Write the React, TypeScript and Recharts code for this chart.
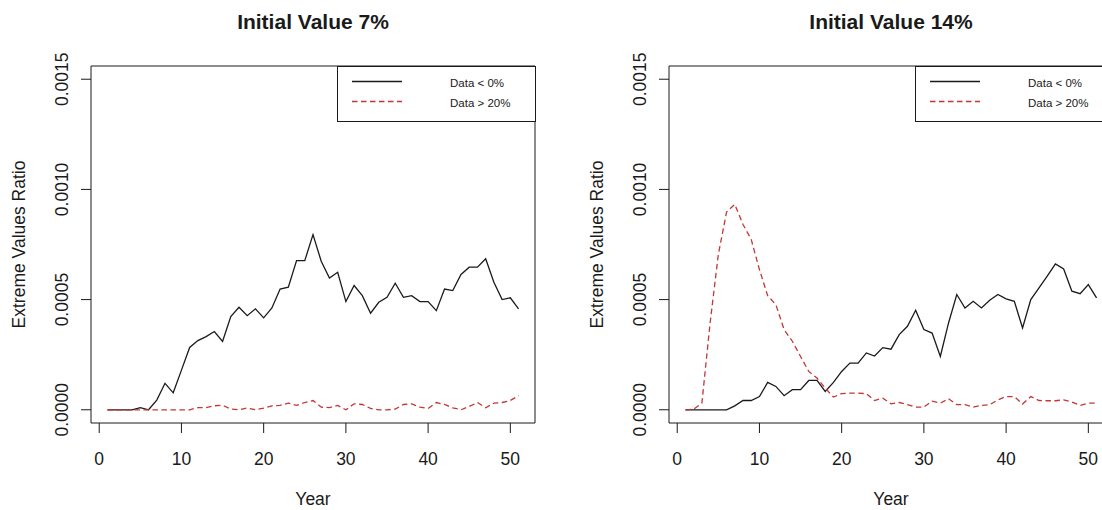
import React from 'react';
import { LineChart, Line, XAxis, YAxis, ReferenceArea, Legend } from 'recharts';

// Simulation years on the x axis
const years = [
  1, 2, 3, 4, 5, 6, 7, 8, 9, 10, 11, 12, 13, 14, 15, 16, 17, 18, 19, 20,
  21, 22, 23, 24, 25, 26, 27, 28, 29, 30, 31, 32, 33, 34, 35, 36, 37, 38, 39, 40,
  41, 42, 43, 44, 45, 46, 47, 48, 49, 50, 51,
];

// Initial value 7%
const below7 = [
  0, 0, 0, 0, 0.00001, 0, 0.000044, 0.00012, 0.000077, 0.00018,
  0.000283, 0.000314, 0.000332, 0.000355, 0.00031, 0.000423, 0.000465, 0.000427, 0.000458, 0.000417,
  0.000462, 0.000548, 0.000556, 0.000677, 0.000677, 0.000795, 0.000674, 0.000598, 0.000624, 0.000491,
  0.000564, 0.000518, 0.000438, 0.000488, 0.00051, 0.000574, 0.00051, 0.000518, 0.000491, 0.000491,
  0.00045, 0.000548, 0.000541, 0.000614, 0.000647, 0.000647, 0.000685, 0.000579, 0.0005, 0.000508,
  0.000458,
];
const above7 = [
  0, 0, 0, 0, 0, 0, 0, 0, 0, 0,
  0, 0.00001, 0.00001, 0.000018, 0.000021, 0.000003, 0, 0.000008, 0, 0.000008,
  0.000018, 0.00002, 0.00003, 0.00002, 0.000033, 0.000042, 0.000012, 0.00001, 0.00002, 0,
  0.000027, 0.000024, 0.000006, 0, 0, 0.000003, 0.000024, 0.000027, 0.000012, 0.000006,
  0.000033, 0.000024, 0.000009, 0, 0.000015, 0.000033, 0.000009, 0.00003, 0.000033, 0.000042,
  0.000064,
];

// Initial value 14%
const below14 = [
  0, 0, 0, 0, 0, 0, 0.000018, 0.000042, 0.000042, 0.00006,
  0.000124, 0.000106, 0.000064, 0.000091, 0.000091, 0.000133, 0.000133, 0.000083, 0.000124, 0.000174,
  0.000212, 0.000212, 0.000258, 0.000244, 0.000282, 0.000275, 0.000341, 0.000379, 0.000452, 0.000364,
  0.000348, 0.000242, 0.000394, 0.000523, 0.000462, 0.000492, 0.000462, 0.000497, 0.000523, 0.000503,
  0.000492, 0.000371, 0.0005, 0.000553, 0.000606, 0.000662, 0.000639, 0.000538, 0.000527, 0.000568,
  0.000508,
];
const above14 = [
  0, 0.000003, 0.00003, 0.000394, 0.000705, 0.000897, 0.000932, 0.000841, 0.000773, 0.000636,
  0.000518, 0.000477, 0.000364, 0.000311, 0.000242, 0.000174, 0.000144, 0.000098, 0.000058, 0.000073,
  0.000076, 0.000076, 0.000073, 0.000042, 0.000053, 0.000027, 0.000033, 0.000023, 0.000012, 0.000012,
  0.000039, 0.00003, 0.00005, 0.000023, 0.000023, 0.000012, 0.00002, 0.000023, 0.000045, 0.00006,
  0.00006, 0.000026, 0.00006, 0.000042, 0.000041, 0.000041, 0.000045, 0.000035, 0.00002, 0.00003,
  0.00003,
];

const xTicks = [0, 10, 20, 30, 40, 50];
const yTicks = [0, 0.0005, 0.001, 0.0015];
const seriesNames = ['Data < 0%', 'Data > 20%'];

const FONT = '"Liberation Sans", Arial, Helvetica, sans-serif';
const INK = '#1a1a1a';
const RED = '#c43636';
const DASH = '5.5 3.5';
const X_DOMAIN: [number, number] = [-1, 53];
const Y_DOMAIN: [number, number] = [-0.00006, 0.00156];

const YTick = ({ x, y, payload }: any) => (
  <text
    transform={`translate(${x - 13},${y}) rotate(-90)`}
    textAnchor="middle"
    fontSize={17.5}
    fontFamily={FONT}
    fill={INK}
  >
    {Number(payload.value).toFixed(4)}
  </text>
);

const XTick = ({ x, y, payload }: any) => (
  <text x={x} y={y + 32} textAnchor="middle" fontSize={17.5} fontFamily={FONT} fill={INK}>
    {payload.value}
  </text>
);

const LegendBox = () => (
  <div
    style={{
      width: 199,
      height: 56,
      border: `1px solid ${INK}`,
      boxSizing: 'border-box',
      background: '#fff',
    }}
  >
    <svg width={197} height={54} style={{ display: 'block' }}>
      <line x1={14} x2={64} y1={14.5} y2={14.5} stroke={INK} strokeWidth={1.3} />
      <line x1={14} x2={64} y1={34.5} y2={34.5} stroke={RED} strokeWidth={1.3} strokeDasharray={DASH} />
      <text x={112} y={19.7} fontSize={11.5} fontFamily={FONT} fill={INK}>
        {seriesNames[0]}
      </text>
      <text x={112} y={40} fontSize={11.5} fontFamily={FONT} fill={INK}>
        {seriesNames[1]}
      </text>
    </svg>
  </div>
);

interface PanelProps {
  title: string;
  below: number[];
  above: number[];
  left: number;
}

const Panel: React.FC<PanelProps> = ({ title, below, above, left }) => {
  const data = years.map((year, i) => ({ year, below: below[i], above: above[i] }));

  return (
    <div style={{ position: 'absolute', left, top: 0, width: 551, height: 510 }}>
      <LineChart width={551} height={510} data={data} margin={{ top: 66, right: 16, bottom: 47, left: 21 }}>
        <XAxis
          type="number"
          dataKey="year"
          domain={X_DOMAIN}
          ticks={xTicks}
          allowDataOverflow
          axisLine={false}
          tickLine={{ stroke: INK }}
          tickSize={10}
          tickMargin={0}
          height={40}
          tick={<XTick />}
        />
        <YAxis
          type="number"
          domain={Y_DOMAIN}
          ticks={yTicks}
          allowDataOverflow
          axisLine={false}
          tickLine={{ stroke: INK }}
          tickSize={10}
          tickMargin={0}
          width={70}
          tick={<YTick />}
        />
        <ReferenceArea
          x1={X_DOMAIN[0]}
          x2={X_DOMAIN[1]}
          y1={Y_DOMAIN[0]}
          y2={Y_DOMAIN[1]}
          fill="none"
          stroke={INK}
          strokeWidth={1}
          ifOverflow="visible"
        />
        <Line
          type="linear"
          dataKey="below"
          name={seriesNames[0]}
          stroke={INK}
          strokeWidth={1.3}
          dot={false}
          isAnimationActive={false}
        />
        <Line
          type="linear"
          dataKey="above"
          name={seriesNames[1]}
          stroke={RED}
          strokeWidth={1.3}
          strokeDasharray={DASH}
          dot={false}
          isAnimationActive={false}
        />
        <Legend
          layout="horizontal"
          verticalAlign="middle"
          align="center"
          wrapperStyle={{ left: 337, top: 66, width: 199, height: 56 }}
          content={() => <LegendBox />}
        />
      </LineChart>
      <svg
        width={551}
        height={510}
        style={{ position: 'absolute', left: 0, top: 0, pointerEvents: 'none' }}
      >
        <text x={313} y={29} textAnchor="middle" fontSize={21} fontWeight="bold" fontFamily={FONT} fill={INK}>
          {title}
        </text>
        <text x={313} y={505} textAnchor="middle" fontSize={17.5} fontFamily={FONT} fill={INK}>
          Year
        </text>
        <text
          transform="translate(25,244.5) rotate(-90)"
          textAnchor="middle"
          fontSize={17.5}
          fontFamily={FONT}
          fill={INK}
        >
          Extreme Values Ratio
        </text>
      </svg>
    </div>
  );
};

export default function App() {
  return (
    <div
      style={{
        position: 'absolute',
        left: 0,
        top: 0,
        width: 1102,
        height: 510,
        overflow: 'hidden',
        background: '#fff',
      }}
    >
      <Panel title="Initial Value 7%" below={below7} above={above7} left={0} />
      <Panel title="Initial Value 14%" below={below14} above={above14} left={578} />
    </div>
  );
}
